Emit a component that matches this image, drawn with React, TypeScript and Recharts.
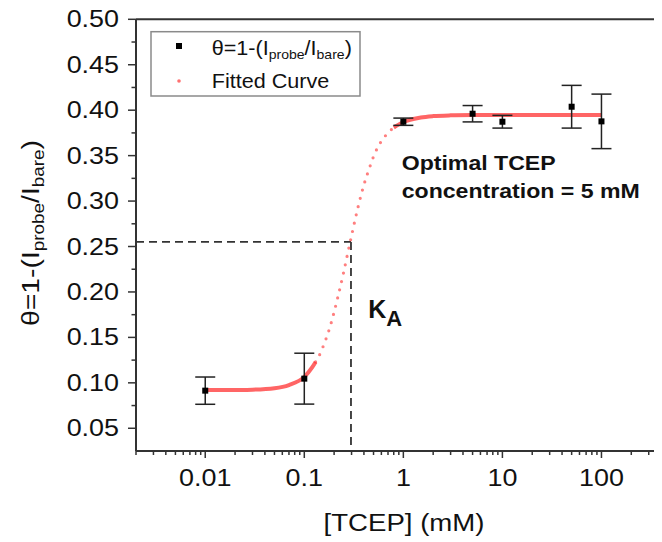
import React from "react";
import {
  ComposedChart,
  XAxis,
  YAxis,
  Scatter,
  Line,
  ErrorBar,
  ReferenceLine,
} from "recharts";

// ---- data ----
const measured = [
  { x: 0.01, y: 0.0914, err: 0.015 },
  { x: 0.1, y: 0.1046, err: 0.028 },
  { x: 1, y: 0.3873, err: 0.004 },
  { x: 5, y: 0.3961, err: 0.009 },
  { x: 10, y: 0.3873, err: 0.007 },
  { x: 50, y: 0.4038, err: 0.0235 },
  { x: 100, y: 0.3877, err: 0.03 },
];

const curveLow = [
  { x: 0.01, y: 0.092 },
  { x: 0.02, y: 0.0922 },
  { x: 0.03, y: 0.0925 },
  { x: 0.05, y: 0.0941 },
  { x: 0.07, y: 0.0976 },
  { x: 0.1, y: 0.1065 },
  { x: 0.12, y: 0.117 },
  { x: 0.13, y: 0.123 },
];

const curveSteep = [
  { x: 0.13, y: 0.123 },
  { x: 0.14, y: 0.129 },
  { x: 0.16, y: 0.144 },
  { x: 0.18, y: 0.16 },
  { x: 0.2, y: 0.178 },
  { x: 0.22, y: 0.196 },
  { x: 0.25, y: 0.222 },
  { x: 0.28, y: 0.247 },
  { x: 0.3, y: 0.262 },
  { x: 0.35, y: 0.294 },
  { x: 0.4, y: 0.318 },
  { x: 0.45, y: 0.335 },
  { x: 0.5, y: 0.349 },
  { x: 0.6, y: 0.366 },
  { x: 0.7, y: 0.375 },
  { x: 0.8, y: 0.381 },
];

const curveHigh = [
  { x: 0.8, y: 0.381 },
  { x: 1, y: 0.387 },
  { x: 1.5, y: 0.392 },
  { x: 2, y: 0.3935 },
  { x: 3, y: 0.3943 },
  { x: 5, y: 0.3946 },
  { x: 10, y: 0.3947 },
  { x: 100, y: 0.3947 },
];

const kaX = 0.296;
const kaY = 0.255;

const xDomain = [0.002, 500];
const yDomain = [0.025, 0.5];

const xMajor = [0.01, 0.1, 1, 10, 100];
const xMinor = [
  0.002, 0.003, 0.004, 0.005, 0.006, 0.007, 0.008, 0.009,
  0.02, 0.03, 0.04, 0.05, 0.06, 0.07, 0.08, 0.09,
  0.2, 0.3, 0.4, 0.5, 0.6, 0.7, 0.8, 0.9,
  2, 3, 4, 5, 6, 7, 8, 9,
  20, 30, 40, 50, 60, 70, 80, 90,
  200, 300, 400, 500,
];
const xLabels = ["0.01", "0.1", "1", "10", "100"];

const yMajor = [0.05, 0.1, 0.15, 0.2, 0.25, 0.3, 0.35, 0.4, 0.45, 0.5];
const yMinor = [0.075, 0.125, 0.175, 0.225, 0.275, 0.325, 0.375, 0.425, 0.475];

const FONT = "'Liberation Sans', Arial, Helvetica, sans-serif";
const AXIS = "#333";
const TXT = "#111";
const RED = "#ff2a2a";

function XTick(props: any) {
  const { x, y, payload } = props;
  const v = payload.value;
  const idx = xMajor.indexOf(v);
  const major = idx >= 0;
  return (
    <g>
      <line x1={x} x2={x} y1={y} y2={y + (major ? 7 : 4)} stroke={AXIS} strokeWidth={1.5} />
      {major && (
        <text
          transform={`translate(${x},${y + 35}) scale(1.17,1)`}
          textAnchor="middle"
          fontSize={23}
          fontFamily={FONT}
          fill={TXT}
        >
          {xLabels[idx]}
        </text>
      )}
    </g>
  );
}

function YTick(props: any) {
  const { x, y, payload } = props;
  const v = payload.value;
  const major = yMajor.indexOf(v) >= 0;
  return (
    <g>
      <line x1={x - (major ? 8 : 4.5)} x2={x} y1={y} y2={y} stroke={AXIS} strokeWidth={1.5} />
      {major && (
        <text
          transform={`translate(${x - 17},${y + 8}) scale(1.17,1)`}
          textAnchor="end"
          fontSize={23}
          fontFamily={FONT}
          fill={TXT}
        >
          {v.toFixed(2)}
        </text>
      )}
    </g>
  );
}

function SquareDot(props: any) {
  const { cx, cy } = props;
  if (cx == null || cy == null) return null;
  return <rect x={cx - 3} y={cy - 3} width={6} height={6} fill="#000" />;
}

export default function App() {
  return (
    <div style={{ position: "relative", width: 654, height: 534, overflow: "hidden" }}>
      <ComposedChart
        width={680}
        height={534}
        margin={{ top: 11.3, right: 17.3, bottom: 0, left: 0 }}
      >
        <XAxis
          dataKey="x"
          type="number"
          scale="log"
          domain={xDomain}
          allowDataOverflow
          ticks={[...xMajor, ...xMinor]}
          interval={0}
          tick={<XTick />}
          tickLine={false}
          tickSize={0}
          tickMargin={0}
          height={91}
          axisLine={{ stroke: AXIS, strokeWidth: 2 }}
        />
        <YAxis
          type="number"
          domain={yDomain}
          allowDataOverflow
          ticks={[...yMajor, ...yMinor]}
          interval={0}
          tick={<YTick />}
          tickLine={false}
          tickSize={0}
          tickMargin={0}
          width={128}
          axisLine={{ stroke: AXIS, strokeWidth: 2 }}
        />
        <ReferenceLine y={0.5} stroke={AXIS} strokeWidth={2} />
        <ReferenceLine
          segment={[
            { x: xDomain[0], y: kaY },
            { x: kaX, y: kaY },
          ]}
          stroke="#333"
          strokeWidth={1.8}
          strokeDasharray="8 5"
        />
        <ReferenceLine
          segment={[
            { x: kaX, y: kaY },
            { x: kaX, y: yDomain[0] },
          ]}
          stroke="#333"
          strokeWidth={1.8}
          strokeDasharray="8 5"
        />
        <Line
          data={curveLow}
          dataKey="y"
          type="monotone"
          stroke={RED}
          strokeOpacity={0.72}
          strokeWidth={4}
          dot={false}
          isAnimationActive={false}
        />
        <Line
          data={curveSteep}
          dataKey="y"
          type="monotone"
          stroke={RED}
          strokeOpacity={0.6}
          strokeWidth={3.2}
          strokeDasharray="0 8.5"
          strokeLinecap="round"
          dot={false}
          isAnimationActive={false}
        />
        <Line
          data={curveHigh}
          dataKey="y"
          type="monotone"
          stroke={RED}
          strokeOpacity={0.72}
          strokeWidth={4}
          dot={false}
          isAnimationActive={false}
        />
        <Scatter data={measured} dataKey="y" shape={<SquareDot />} isAnimationActive={false}>
          <ErrorBar dataKey="err" direction="y" width={10} stroke="#222" strokeWidth={1.5} />
        </Scatter>
      </ComposedChart>

      <svg
        width={654}
        height={534}
        style={{ position: "absolute", left: 0, top: 0, pointerEvents: "none" }}
        fontFamily={FONT}
      >
        {/* y axis title */}
        <text
          transform="translate(31,225) rotate(-90) scale(1.18,1)"
          textAnchor="middle"
          fontSize={24}
          fill={TXT}
        >
          θ=1-(I
          <tspan fontSize={16} dy={5}>probe</tspan>
          <tspan fontSize={24} dy={-5}>/I</tspan>
          <tspan fontSize={16} dy={5}>bare</tspan>
          <tspan fontSize={24} dy={-5}>)</tspan>
        </text>
        {/* x axis title */}
        <text
          transform="translate(396,523) scale(1.15,1)"
          textAnchor="middle"
          fontSize={24}
          fill={TXT}
        >
          [TCEP] (mM)
        </text>

        {/* legend */}
        <rect x={143} y={23.7} width={209} height={64.3} fill="#fff" stroke="#8a8a8a" strokeWidth={1.5} />
        <rect x={168} y={35} width={6} height={6} fill="#000" />
        <text transform="translate(203.7,47) scale(1.08,1)" fontSize={20} fill={TXT}>
          θ=1-(I
          <tspan fontSize={13} dy={4}>probe</tspan>
          <tspan fontSize={20} dy={-4}>/I</tspan>
          <tspan fontSize={13} dy={4}>bare</tspan>
          <tspan fontSize={20} dy={-4}>)</tspan>
        </text>
        <circle cx={171} cy={73} r={1.8} fill="#ff7070" />
        <text transform="translate(203.7,80) scale(1.08,1)" fontSize={20} fill={TXT}>
          Fitted Curve
        </text>

        {/* annotations */}
        <text transform="translate(393.7,162) scale(1.1,1)" fontSize={21} fontWeight="bold" fill={TXT}>
          Optimal TCEP
        </text>
        <text transform="translate(393.7,189.7) scale(1.1,1)" fontSize={21} fontWeight="bold" fill={TXT}>
          concentration = 5 mM
        </text>
        <text x={360.3} y={310} fontSize={25} fontWeight="bold" fill={TXT}>
          K<tspan fontSize={22} dy={8}>A</tspan>
        </text>
      </svg>
    </div>
  );
}
